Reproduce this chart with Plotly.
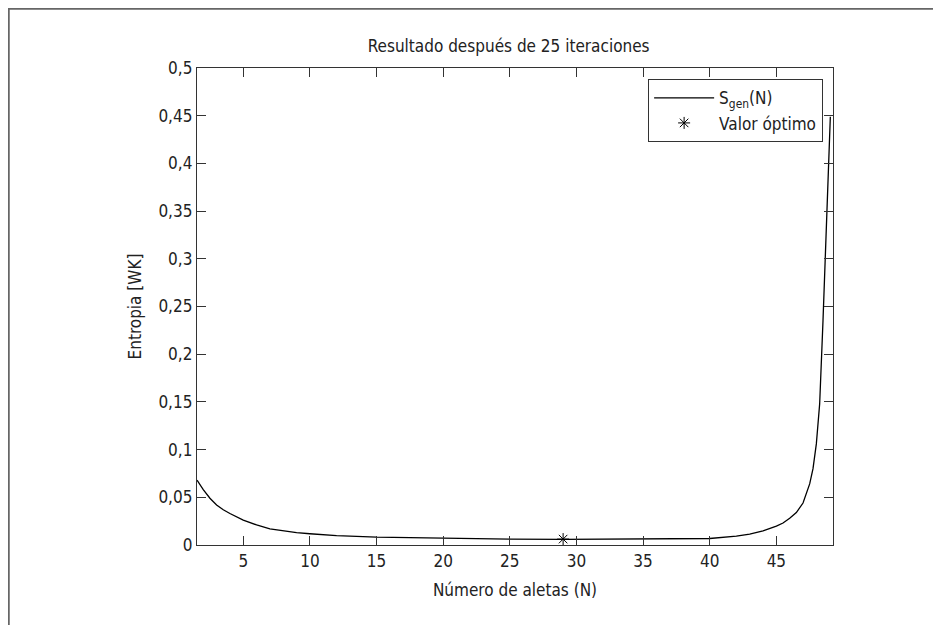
import plotly.graph_objects as go

# Data
N_vals = [1.53, 2, 2.5, 3, 3.5, 4, 5, 6, 7, 8, 9, 10, 12, 15, 20, 25, 29, 35, 40,
          42, 43, 44, 45, 45.5, 46, 46.5, 47, 47.5, 47.75, 48, 48.25, 48.5, 48.75, 49.05]
S_gen = [0.068, 0.058, 0.049, 0.042, 0.037, 0.033, 0.026, 0.021, 0.017, 0.0148, 0.013,
         0.0118, 0.0098, 0.0082, 0.0068, 0.0062, 0.006, 0.0061, 0.0068,
         0.0092, 0.0115, 0.0148, 0.0197, 0.023, 0.028, 0.034, 0.044, 0.064, 0.08,
         0.106, 0.148, 0.235, 0.335, 0.449]
opt_N = [29]
opt_S = [0.0062]

x_ticks = [5, 10, 15, 20, 25, 30, 35, 40, 45]
y_ticks = [0, 0.05, 0.1, 0.15, 0.2, 0.25, 0.3, 0.35, 0.4, 0.45, 0.5]
y_ticktext = ["0", "0,05", "0,1", "0,15", "0,2", "0,25", "0,3", "0,35", "0,4", "0,45", "0,5"]

FONT = "DejaVu Sans Condensed, Liberation Sans Narrow, Arial Narrow, sans-serif"
AX = "#333333"
TXT = "#222222"
FS = 17

fig = go.Figure()
fig.add_trace(go.Scatter(x=N_vals, y=S_gen, mode="lines", name="S<sub>gen</sub>(N)",
                         line=dict(color="black", width=1.3)))
fig.add_trace(go.Scatter(x=opt_N, y=opt_S, mode="markers", name="Valor óptimo",
                         marker=dict(symbol="asterisk-open", size=10, color="black",
                                     line=dict(color="black", width=1))))

axis_common = dict(showgrid=False, zeroline=False, showline=True, linecolor=AX, linewidth=1.3,
                   mirror="allticks", ticks="inside", ticklen=9, tickwidth=1.3, tickcolor=AX,
                   tickfont=dict(family=FONT, size=FS, color=TXT))

fig.update_xaxes(range=[1.53, 49.25], tickvals=x_ticks,
                 title=dict(text="Número de aletas (N)", font=dict(family=FONT, size=FS, color=TXT),
                            standoff=14),
                 **axis_common)
fig.update_yaxes(range=[0, 0.5], tickvals=y_ticks, ticktext=y_ticktext,
                 title=dict(text="Entropia [WK]", font=dict(family=FONT, size=FS, color=TXT),
                            standoff=12),
                 **axis_common)

fig.update_layout(
    width=941, height=625,
    margin=dict(l=189, r=116, t=60, b=88),
    paper_bgcolor="white", plot_bgcolor="white",
    font=dict(family=FONT, size=FS, color=TXT),
    title=dict(text="Resultado después de 25 iteraciones", x=0.49, xref="paper",
               y=1 - 38 / 625, yanchor="middle", xanchor="center",
               font=dict(family=FONT, size=FS, color=TXT)),
    legend=dict(x=0.984, y=0.977, xanchor="right", yanchor="top",
                bordercolor=AX, borderwidth=1.3, bgcolor="white",
                font=dict(family=FONT, size=FS, color=TXT),
                tracegroupgap=0, itemwidth=60),
    showlegend=True,
)

# outer frame (left and top edges of the original figure border)
fig.add_shape(type="path", xref="paper", yref="paper",
              path="M -0.296,-0.3 L -0.296,1.124 L 1.3,1.124",
              line=dict(color="#666666", width=2))

fig.write_html("out.html")
